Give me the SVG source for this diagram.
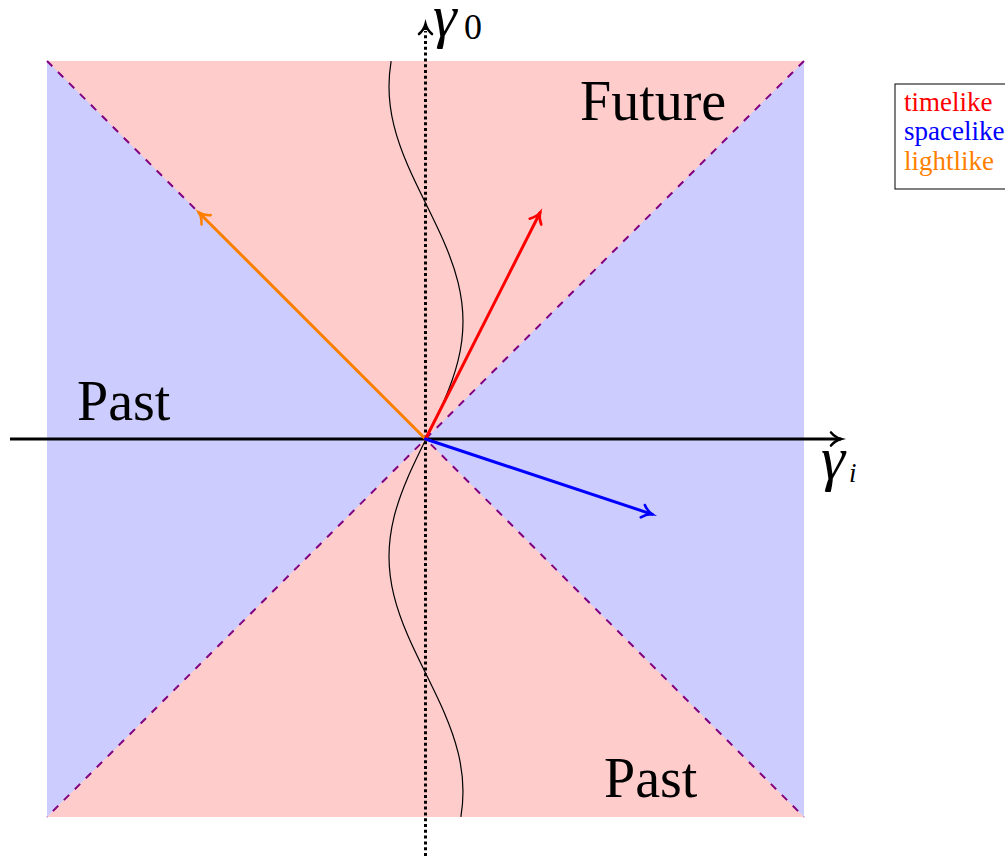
<svg xmlns="http://www.w3.org/2000/svg" width="1005" height="856" viewBox="0 0 1005 856">
<style>
.lbl{font-family:"Liberation Serif",serif;fill:#000}
.big{font-size:56px}
.math{font-family:"Liberation Serif",serif;font-style:italic}
.leg{font-family:"Liberation Serif",serif;font-size:27px}
.cone{stroke:#800080;stroke-width:2;stroke-dasharray:7.5 8;fill:none}
.vec{fill:none;stroke-width:3;stroke-linecap:round}
</style>
<defs>
<marker id="ahK" markerUnits="userSpaceOnUse" viewBox="-12 -9 14 18" refX="0" refY="0" markerWidth="14" markerHeight="18" orient="auto" overflow="visible">
<path d="M -10 -6.5 C -7 -3, -3 -0.8, 0 0 C -3 0.8, -7 3, -10 6.5" fill="none" stroke="#000" stroke-width="2.6" stroke-linecap="round"/>
</marker>
<marker id="ahR" markerUnits="userSpaceOnUse" viewBox="-12 -9 14 18" refX="0" refY="0" markerWidth="14" markerHeight="18" orient="auto" overflow="visible">
<path d="M -10 -6.5 C -7 -3, -3 -0.8, 0 0 C -3 0.8, -7 3, -10 6.5" fill="none" stroke="#ff0000" stroke-width="2.6" stroke-linecap="round"/>
</marker>
<marker id="ahB" markerUnits="userSpaceOnUse" viewBox="-12 -9 14 18" refX="0" refY="0" markerWidth="14" markerHeight="18" orient="auto" overflow="visible">
<path d="M -10 -6.5 C -7 -3, -3 -0.8, 0 0 C -3 0.8, -7 3, -10 6.5" fill="none" stroke="#0000ff" stroke-width="2.6" stroke-linecap="round"/>
</marker>
<marker id="ahO" markerUnits="userSpaceOnUse" viewBox="-12 -9 14 18" refX="0" refY="0" markerWidth="14" markerHeight="18" orient="auto" overflow="visible">
<path d="M -10 -6.5 C -7 -3, -3 -0.8, 0 0 C -3 0.8, -7 3, -10 6.5" fill="none" stroke="#ff8000" stroke-width="2.6" stroke-linecap="round"/>
</marker>
</defs>
<rect width="1005" height="856" fill="#fff"/>
<g id="regions">
<rect x="47" y="61" width="757" height="756" fill="#ccccff"/>
<polygon points="47,61 804,61 425.5,439" fill="#ffcccc"/>
<polygon points="47,817 804,817 425.5,439" fill="#ffcccc"/>
<line class="cone" x1="47" y1="61" x2="804" y2="817"/>
<line class="cone" x1="804" y1="61" x2="47" y2="817"/>
</g>
<g id="worldline">
<path d="M 391.12 61.04 C 389.72 69.53, 389 78.01, 389 86.5 C 389 99.56, 390.73 112.61, 393.96 125.67 C 397.19 138.73, 401.91 151.77, 407.5 164.83 C 413.09 177.89, 419.54 190.94, 426 204 C 432.46 217.06, 438.91 230.11, 444.5 243.17 C 450.09 256.23, 454.81 269.27, 458.04 282.33 C 461.27 295.39, 463 308.44, 463 321.5 C 463 334.56, 461.27 347.61, 458.04 360.67 C 454.81 373.73, 450.09 386.77, 444.5 399.83 C 438.91 412.89, 432.46 425.94, 426 439 C 419.54 452.06, 413.09 465.11, 407.5 478.17 C 401.91 491.23, 397.19 504.27, 393.96 517.33 C 390.73 530.39, 389 543.44, 389 556.5 C 389 569.56, 390.73 582.61, 393.96 595.67 C 397.19 608.73, 401.91 621.77, 407.5 634.83 C 413.09 647.89, 419.54 660.94, 426 674 C 432.46 687.06, 438.91 700.11, 444.5 713.17 C 450.09 726.23, 454.81 739.27, 458.04 752.33 C 461.27 765.39, 463 778.44, 463 791.5 C 463 799.99, 462.28 808.47, 460.88 816.96" fill="none" stroke="#000" stroke-width="1.2"/>
</g>
<g id="connectors">
<line x1="10" y1="439" x2="841" y2="439" stroke="#000" stroke-width="3" marker-end="url(#ahK)"/>
<line x1="425.5" y1="856" x2="425.5" y2="31" stroke="#000" stroke-width="3" stroke-dasharray="3 2.8"/>
<line x1="425.5" y1="30" x2="425.5" y2="24" stroke="#000" stroke-width="3" marker-end="url(#ahK)"/>
<line class="vec" x1="425.5" y1="439" x2="199" y2="212.7" stroke="#ff8000" marker-end="url(#ahO)"/>
<line class="vec" x1="425.5" y1="439" x2="540" y2="212.7" stroke="#ff0000" marker-end="url(#ahR)"/>
<line class="vec" x1="425.5" y1="439" x2="652.3" y2="514.3" stroke="#0000ff" marker-end="url(#ahB)"/>
</g>
<g id="label-gamma0">
<text x="433" y="36" class="math" font-size="60">γ</text>
<text x="464" y="39" class="lbl" font-size="36">0</text>
</g>
<g id="label-gammai">
<text x="821" y="479" class="math" font-size="61">γ</text>
<text x="849" y="482" class="math" font-size="27">i</text>
</g>
<g id="label-future"><text x="580" y="120" class="lbl big">Future</text></g>
<g id="label-past-left"><text x="77" y="420" class="lbl big">Past</text></g>
<g id="label-past-right"><text x="604" y="797" class="lbl big">Past</text></g>
<g id="legend">
<rect x="895" y="84" width="130" height="105" fill="#fff" stroke="#000" stroke-width="1"/>
<text x="904" y="111" class="leg" fill="#ff0000">timelike</text>
<text x="904" y="140" class="leg" fill="#0000ff">spacelike</text>
<text x="904" y="170" class="leg" fill="#ff8000">lightlike</text>
</g>
</svg>
